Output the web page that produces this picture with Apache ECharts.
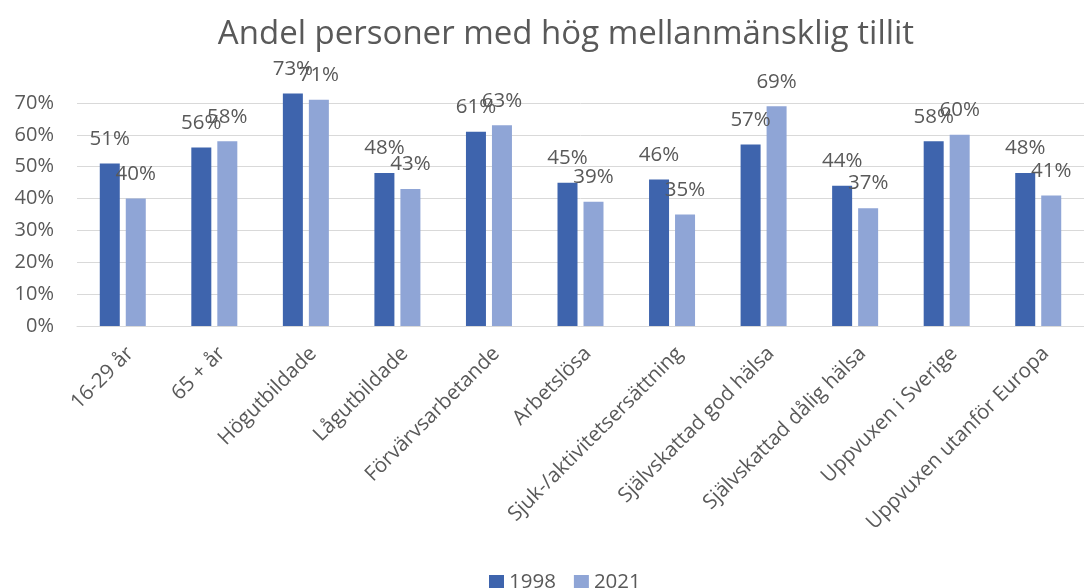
<!DOCTYPE html>
<html>
<head>
<meta charset="utf-8">
<script src="https://cdn.jsdelivr.net/npm/echarts@6/dist/echarts.min.js"></script>
<style>
  html, body { margin: 0; padding: 0; background: #fff; }
  #chart { width: 1084px; height: 588px; }
</style>
</head>
<body>
<div id="chart"></div>
<script>
// kategorier och värden (procent)
const categories = [
    '16-29 år', '65 + år', 'Högutbildade', 'Lågutbildade', 'Förvärvsarbetande',
    'Arbetslösa', 'Sjuk-/aktivitetsersättning', 'Självskattad god hälsa',
    'Självskattad dålig hälsa', 'Uppvuxen i Sverige', 'Uppvuxen utanför Europa'
];
const values1998 = [51, 56, 73, 48, 61, 45, 46, 57, 44, 58, 48];
const values2021 = [40, 58, 71, 43, 63, 39, 35, 69, 37, 60, 41];
const yTicks = [0, 10, 20, 30, 40, 50, 60, 70];

const textColor = '#595959';
const font = 'Open Sans';

const chart = echarts.init(document.getElementById('chart'));

const barLabel = {
    show: true,
    position: 'top',
    distance: 14,
    formatter: '{c}%',
    color: textColor,
    fontFamily: font,
    fontSize: 20.5
};

chart.setOption({
    animation: false,
    title: {
        text: 'Andel personer med hög mellanmänsklig tillit',
        left: 561,
        textAlign: 'center',
        top: 13,
        textStyle: { color: textColor, fontFamily: font, fontSize: 33, fontWeight: 'normal' }
    },
    legend: {
        top: 567,
        left: 484,
        itemWidth: 15,
        itemHeight: 15,
        itemGap: 18,
        icon: 'rect',
        textStyle: { color: textColor, fontFamily: font, fontSize: 20.5 },
        data: ['1998', '2021']
    },
    grid: { left: 77, right: -10, top: 103, bottom: 262 },
    xAxis: {
        type: 'category',
        data: categories,
        axisLine: { lineStyle: { color: '#d9d9d9', width: 1 } },
        axisTick: { show: false },
        axisLabel: {
            rotate: 45,
            margin: 17,
            align: 'right',
            verticalAlign: 'top',
            interval: 0,
            color: textColor,
            fontFamily: font,
            fontSize: 20.5
        }
    },
    yAxis: {
        type: 'value',
        min: yTicks[0],
        max: yTicks[yTicks.length - 1],
        interval: 10,
        axisLine: { show: false },
        axisTick: { show: false },
        splitLine: { lineStyle: { color: '#d9d9d9', width: 1 } },
        axisLabel: {
            formatter: '{value}%',
            margin: 23,
            color: textColor,
            fontFamily: font,
            fontSize: 20
        }
    },
    series: [
        {
            name: '1998',
            type: 'bar',
            data: values1998,
            barWidth: 20,
            barGap: '30%',
            clip: false,
            itemStyle: { color: '#3e64ad' },
            label: barLabel
        },
        {
            name: '2021',
            type: 'bar',
            data: values2021,
            barWidth: 20,
            clip: false,
            itemStyle: { color: '#8fa5d6' },
            label: barLabel
        }
    ]
});

window.addEventListener('resize', () => chart.resize());
</script>
</body>
</html>
